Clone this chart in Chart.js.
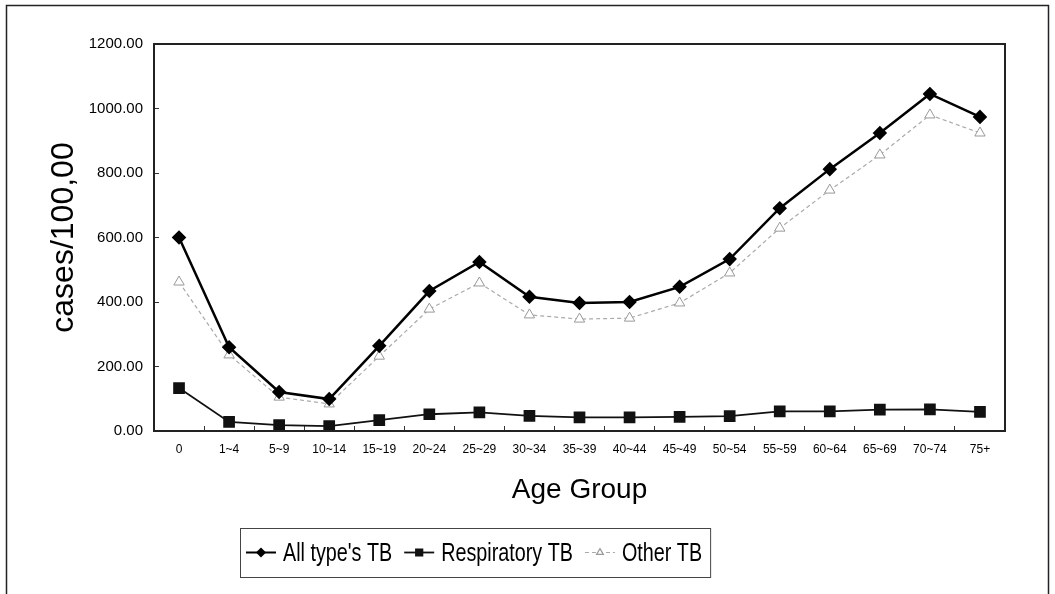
<!DOCTYPE html>
<html>
<head>
<meta charset="utf-8">
<script src="https://cdn.jsdelivr.net/npm/chart.js@4"></script>
<style>
  html, body { margin: 0; padding: 0; background: #fff; }
  #wrap { width: 1055px; height: 594px; }
</style>
</head>
<body>
<div id="wrap"><canvas id="tb-chart"></canvas></div>
<script>
const ageGroups = ['0', '1~4', '5~9', '10~14', '15~19', '20~24', '25~29', '30~34', '35~39',
    '40~44', '45~49', '50~54', '55~59', '60~64', '65~69', '70~74', '75+'];
const allTypes = [600, 260, 121, 99, 264, 434, 524, 416, 397, 400, 447, 533, 691, 812, 924, 1045, 974];
const respiratory = [133, 28, 18, 15, 34, 52, 58, 47, 42, 42, 44, 46, 61, 61, 66, 67, 59];
const otherTB = [462, 236, 105, 84, 232, 378, 459, 360, 347, 350, 397, 490, 629, 747, 856, 980, 924];
const yTicks = [0, 200, 400, 600, 800, 1000, 1200];
const seriesNames = ["All type's TB", 'Respiratory TB', 'Other TB'];

Chart.defaults.font.family = "'Liberation Sans', Arial, sans-serif";
Chart.defaults.color = '#000';

// outer frame, plot box and the boxed legend underneath
const framePlugin = {
    id: 'frame',
    afterDraw(chart) {
        const ctx = chart.ctx;
        const a = chart.chartArea;
        ctx.save();
        ctx.strokeStyle = '#222';
        ctx.lineWidth = 1.5;
        ctx.beginPath();
        ctx.moveTo(6.5, 594);
        ctx.lineTo(6.5, 5.5);
        ctx.lineTo(1048.5, 5.5);
        ctx.lineTo(1048.5, 594);
        ctx.stroke();
        ctx.lineWidth = 2;
        ctx.strokeRect(a.left, a.top, a.right - a.left, a.bottom - a.top);

        // legend, text squeezed sideways like the original
        const sx = 0.76;
        ctx.font = "26px 'Liberation Sans', Arial, sans-serif";
        const sample = 30, gapIn = 7, gapOut = 12, pad = 6;
        const widths = seriesNames.map(n => ctx.measureText(n).width * sx);
        let total = pad * 2 + 2;
        widths.forEach((w, i) => { total += sample + gapIn + w + (i < widths.length - 1 ? gapOut : 0); });
        const cx = 475, top = 528, h = 49;
        const left = Math.round(cx - total / 2);
        ctx.fillStyle = '#fff';
        ctx.fillRect(left, top, total, h);
        ctx.strokeStyle = '#444';
        ctx.lineWidth = 1;
        ctx.strokeRect(left + 0.5, top + 0.5, total, h);
        const midY = top + h / 2;
        let x = left + pad;
        chart.data.datasets.forEach((ds, i) => {
            ctx.save();
            ctx.strokeStyle = ds.borderColor;
            ctx.lineWidth = i === 0 ? 2 : ds.borderWidth;
            ctx.setLineDash(ds.borderDash || []);
            ctx.beginPath();
            ctx.moveTo(x, midY);
            ctx.lineTo(x + sample, midY);
            ctx.stroke();
            ctx.setLineDash([]);
            ctx.fillStyle = ds.pointBackgroundColor;
            ctx.strokeStyle = ds.pointBorderColor;
            Chart.helpers.drawPoint(ctx, {
                pointStyle: ds.pointStyle,
                radius: ds.pointRadius * 0.65,
                borderWidth: 1,
                rotation: 0
            }, x + sample / 2, midY);
            ctx.restore();
            ctx.save();
            ctx.fillStyle = '#000';
            ctx.textBaseline = 'middle';
            ctx.translate(x + sample + gapIn, midY + 1);
            ctx.scale(sx, 1);
            ctx.fillText(ds.label, 0, 0);
            ctx.restore();
            x += sample + gapIn + widths[i] + gapOut;
        });
        ctx.restore();
    }
};

const ctx = document.getElementById('tb-chart');
const chart = new Chart(ctx, {
    type: 'line',
    data: {
        labels: ageGroups,
        datasets: [{
            label: seriesNames[0],
            data: allTypes,
            borderColor: '#000',
            backgroundColor: '#000',
            borderWidth: 2.5,
            pointStyle: 'rectRot',
            pointRadius: 5.5,
            pointBorderColor: '#000',
            pointBackgroundColor: '#000'
        }, {
            label: seriesNames[1],
            data: respiratory,
            borderColor: '#111',
            backgroundColor: '#111',
            borderWidth: 1.8,
            pointStyle: 'rect',
            pointRadius: 7,
            pointBorderColor: '#111',
            pointBackgroundColor: '#111'
        }, {
            label: seriesNames[2],
            data: otherTB,
            borderColor: '#aaa',
            backgroundColor: 'rgba(0,0,0,0)',
            borderWidth: 1.2,
            borderDash: [4, 3],
            pointStyle: 'triangle',
            pointRadius: 6,
            pointBorderWidth: 1,
            pointBorderColor: '#999',
            pointBackgroundColor: '#fff'
        }]
    },
    options: {
        responsive: true,
        maintainAspectRatio: false,
        animation: false,
        layout: { padding: { left: 41, top: 44, right: 50, bottom: 0 } },
        plugins: {
            legend: { display: false },
            tooltip: { enabled: false }
        },
        scales: {
            x: {
                offset: true,
                grid: { display: true, drawOnChartArea: false, offset: true, tickLength: -5, color: '#333' },
                border: { display: false },
                ticks: { font: { size: 12 }, padding: 16, maxRotation: 0, autoSkip: false },
                title: {
                    display: true,
                    text: 'Age Group',
                    font: { size: 28 },
                    padding: { top: 4, bottom: 87 }
                },
                afterFit(scale) { scale.height = 163; }
            },
            y: {
                min: 0,
                max: 1200,
                afterBuildTicks(scale) { scale.ticks = yTicks.map(v => ({ value: v })); },
                grid: { display: true, drawOnChartArea: false, tickLength: -5, color: '#333' },
                border: { display: false },
                ticks: {
                    font: { size: 15 },
                    padding: 16,
                    callback: v => Number(v).toFixed(2)
                },
                title: {
                    display: true,
                    text: 'cases/100,00',
                    font: { size: 32 },
                    padding: { top: 4, bottom: 0 }
                },
                afterFit(scale) { scale.width = 113; }
            }
        }
    },
    plugins: [framePlugin]
});
</script>
</body>
</html>
